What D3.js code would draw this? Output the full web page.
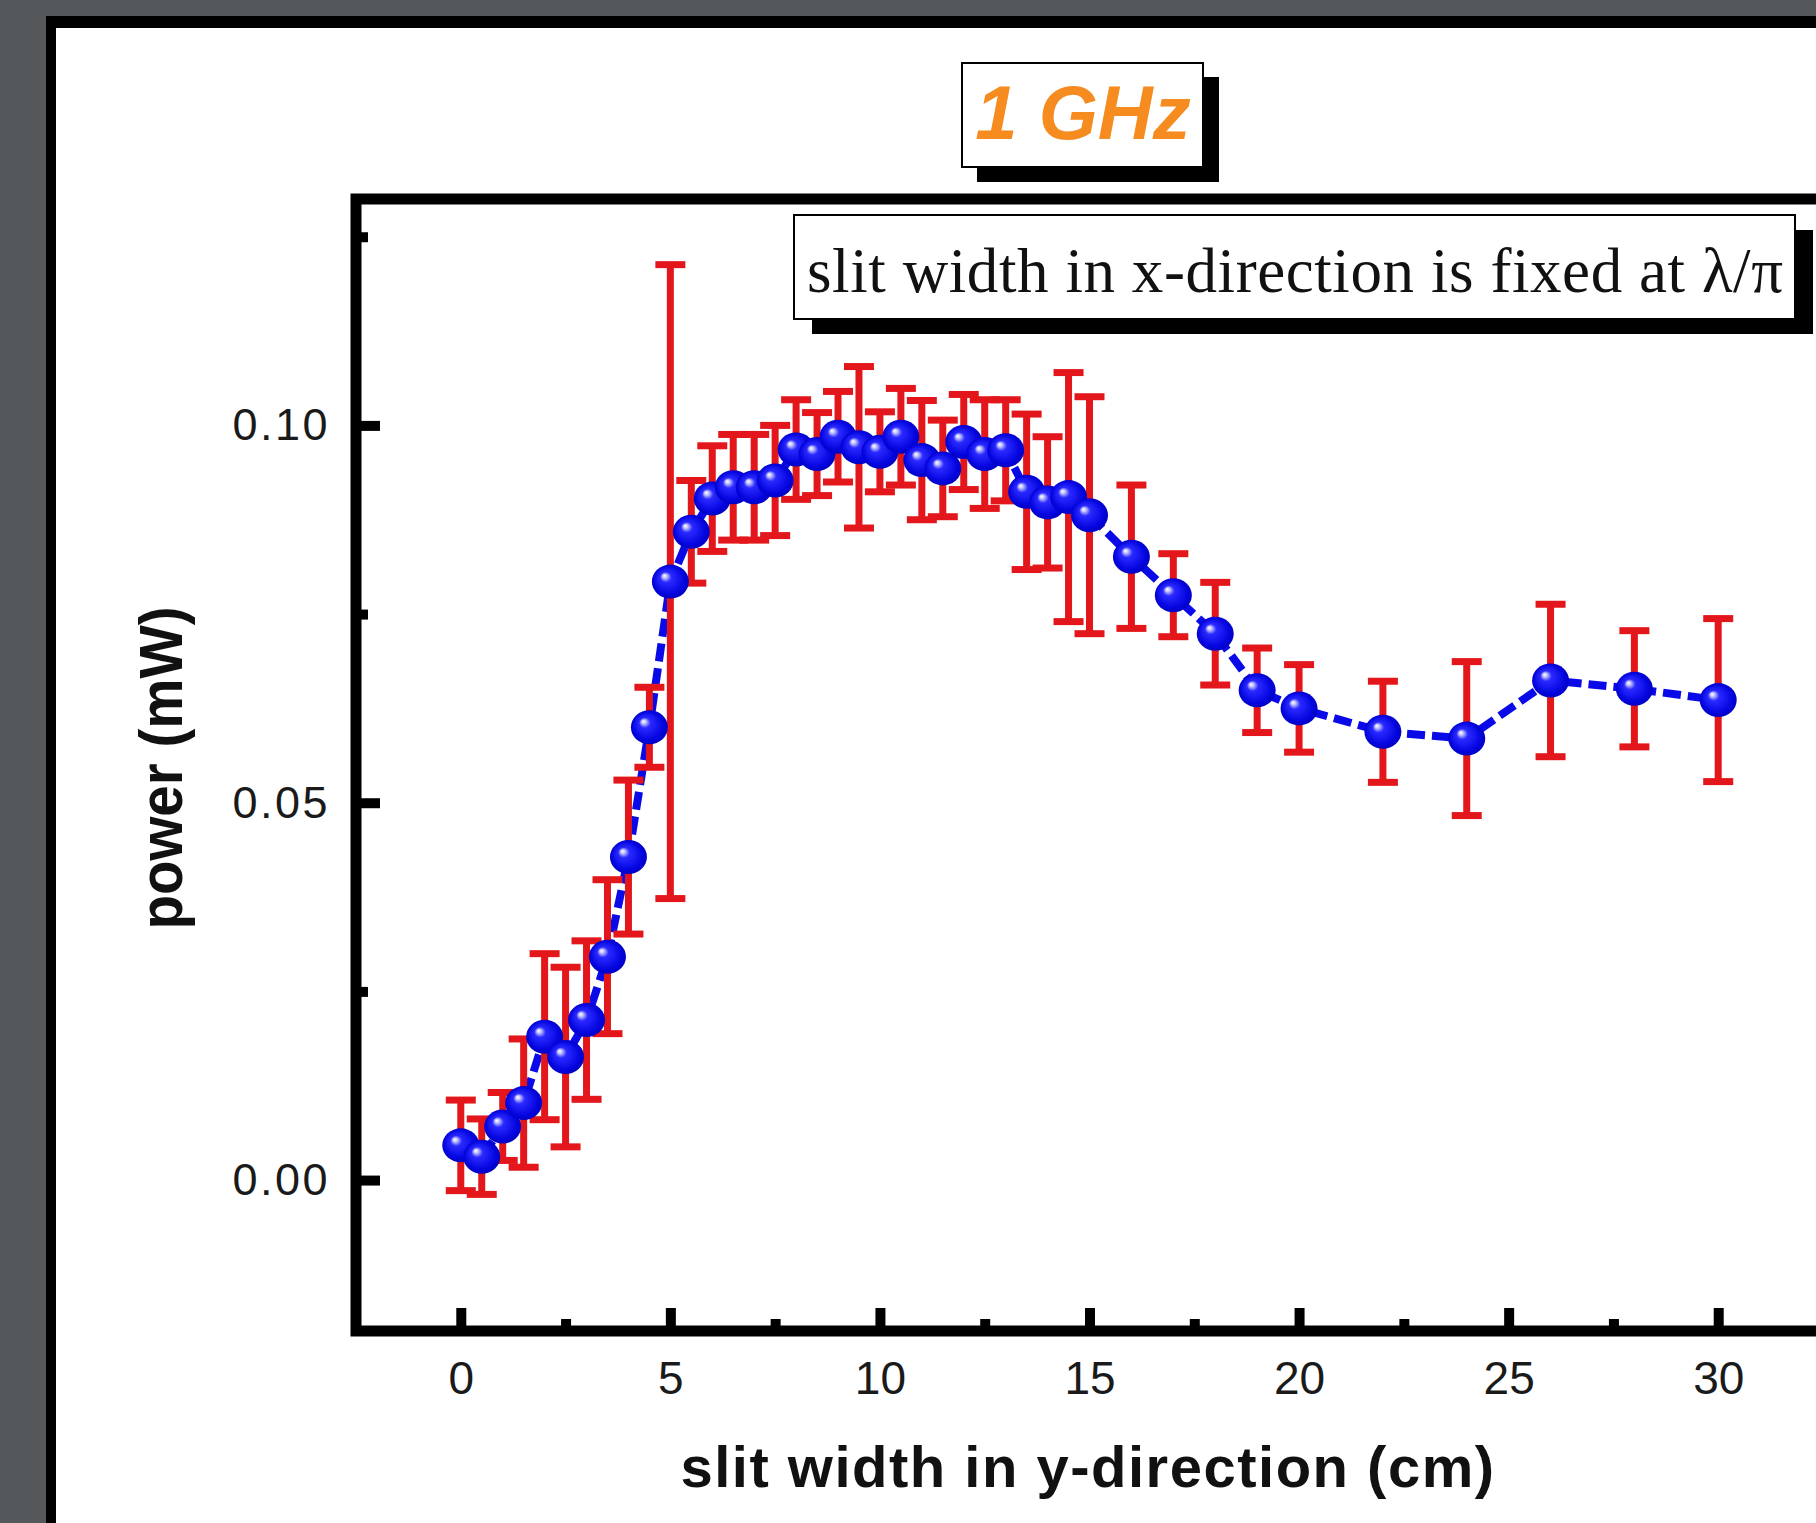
<!DOCTYPE html>
<html>
<head>
<meta charset="utf-8">
<script src="https://cdn.jsdelivr.net/npm/d3@7"></script>
<style>
  html, body { margin: 0; padding: 0; background: #54585a; overflow: hidden; }
  svg { display: block; }
</style>
</head>
<body>
<svg id="chart" width="1816" height="1523"></svg>
<script>
// values
const slitY = [0, 0.5, 1, 1.5, 2, 2.5, 3, 3.5, 4, 4.5, 5, 5.5, 6, 6.5, 7, 7.5, 8, 8.5, 9, 9.5,
  10, 10.5, 11, 11.5, 12, 12.5, 13, 13.5, 14, 14.5, 15, 16, 17, 18, 19, 20, 22, 24, 26, 28, 30];
const power = [0.0046, 0.0031, 0.0071, 0.0102, 0.0190, 0.0163, 0.0212, 0.0296, 0.0428, 0.0600,
  0.0793, 0.0859, 0.0903, 0.0918, 0.0918, 0.0927, 0.0968, 0.0962, 0.0985, 0.0971,
  0.0965, 0.0985, 0.0954, 0.0943, 0.0978, 0.0962, 0.0967, 0.0912, 0.0898, 0.0905,
  0.0881, 0.0826, 0.0775, 0.0724, 0.0649, 0.0625, 0.0594, 0.0585, 0.0662, 0.0651, 0.0636];
const powerErr = [0.0060, 0.0050, 0.0045, 0.0085, 0.0110, 0.0119, 0.0105, 0.0102, 0.0102, 0.0053,
  0.0420, 0.0068, 0.0070, 0.0070, 0.0070, 0.0073, 0.0066, 0.0055, 0.0060, 0.0107,
  0.0053, 0.0064, 0.0079, 0.0064, 0.0063, 0.0072, 0.0067, 0.0103, 0.0087, 0.0165,
  0.0157, 0.0095, 0.0055, 0.0068, 0.0056, 0.0058, 0.0067, 0.0102, 0.0101, 0.0077, 0.0108];

const xMajorTicks = [0, 5, 10, 15, 20, 25, 30];
const xMinorTicks = [2.5, 7.5, 12.5, 17.5, 22.5, 27.5];
const yMajorTicks = [0, 0.05, 0.10];
const yMinorTicks = [0.025, 0.075, 0.125];

const titleText = "1 GHz";
const noteText = "slit width in x-direction is fixed at \u03bb/\u03c0";
const xTitle = "slit width in y-direction (cm)";
const yTitle = "power (mW)";

// layout
const plotLeft = 356, plotRight = 1823, plotTop = 199, plotBottom = 1331;
const sans = "'Liberation Sans', Arial, sans-serif";
const serif = "'Liberation Serif', 'Times New Roman', serif";

const svg = d3.select("#chart");

const points = slitY.map((s, i) => ({ x: s, y: power[i], e: powerErr[i] }));

const x = d3.scaleLinear().domain([-2.5, 32.5]).range([plotLeft, plotRight]);
const y = d3.scaleLinear().domain([-0.02, 0.13]).range([plotBottom, plotTop]);

function translate(a, b) {
  return `translate(${a}, ${b})`;
}

// outer frame
svg.append("rect").attr("x", 46).attr("y", 16).attr("width", 2000).attr("height", 2000).attr("fill", "#000");
svg.append("rect").attr("x", 56).attr("y", 28).attr("width", 2000).attr("height", 2000).attr("fill", "#fff");

// sphere gradient for markers
const defs = svg.append("defs");
const grad = defs.append("radialGradient").attr("id", "ball")
  .attr("cx", "50%").attr("cy", "50%").attr("r", "55%")
  .attr("fx", "33%").attr("fy", "32%");
grad.append("stop").attr("offset", "0%").attr("stop-color", "#ffffff");
grad.append("stop").attr("offset", "10%").attr("stop-color", "#c9c9ff");
grad.append("stop").attr("offset", "28%").attr("stop-color", "#2a2aff");
grad.append("stop").attr("offset", "75%").attr("stop-color", "#0505e0");
grad.append("stop").attr("offset", "100%").attr("stop-color", "#0000b8");

// plot frame
svg.append("rect")
  .attr("x", plotLeft).attr("y", plotTop)
  .attr("width", plotRight - plotLeft).attr("height", plotBottom - plotTop)
  .attr("fill", "#fff").attr("stroke", "#000").attr("stroke-width", 11);

// axes
svg.append("g").attr("class", "x-axis")
  .attr("transform", translate(0, plotBottom))
  .call(d3.axisBottom(x).tickValues(xMajorTicks).tickSize(-23).tickPadding(30).tickFormat(d3.format("d")));
svg.append("g").attr("class", "x-axis-minor")
  .attr("transform", translate(0, plotBottom))
  .call(d3.axisBottom(x).tickValues(xMinorTicks).tickSize(-12).tickFormat(""));

svg.append("g").attr("class", "y-axis")
  .attr("transform", translate(plotLeft, 0))
  .call(d3.axisLeft(y).tickValues(yMajorTicks).tickSize(-24).tickPadding(26).tickFormat(d3.format(".2f")));
svg.append("g").attr("class", "y-axis-minor")
  .attr("transform", translate(plotLeft, 0))
  .call(d3.axisLeft(y).tickValues(yMinorTicks).tickSize(-12).tickFormat(""));

svg.selectAll("g.x-axis path.domain, g.x-axis-minor path.domain, g.y-axis path.domain, g.y-axis-minor path.domain").remove();
svg.selectAll("g.x-axis .tick line, g.x-axis-minor .tick line, g.y-axis .tick line, g.y-axis-minor .tick line")
  .attr("stroke", "#000").attr("stroke-width", 10);
svg.selectAll("g.x-axis text")
  .attr("font-family", sans).attr("font-size", 46).attr("fill", "#1a1a1a");
svg.selectAll("g.y-axis text")
  .attr("font-family", sans).attr("font-size", 45).attr("letter-spacing", 2.5).attr("fill", "#1a1a1a");

// dashed connecting line
const line = d3.line().x(d => x(d.x)).y(d => y(d.y));
svg.append("path")
  .datum(points)
  .attr("d", line)
  .attr("fill", "none")
  .attr("stroke", "#0a0ae8")
  .attr("stroke-width", 8)
  .attr("stroke-dasharray", "18,7");

// error bars
const capHalf = 15;
const bars = svg.append("g").attr("class", "error-bars")
  .selectAll("g.bar")
  .data(points)
  .enter()
  .append("g").attr("class", "bar");

bars.append("line")
  .attr("x1", d => x(d.x)).attr("x2", d => x(d.x))
  .attr("y1", d => y(d.y + d.e)).attr("y2", d => y(d.y - d.e));
bars.append("line")
  .attr("x1", d => x(d.x) - capHalf).attr("x2", d => x(d.x) + capHalf)
  .attr("y1", d => y(d.y + d.e)).attr("y2", d => y(d.y + d.e));
bars.append("line")
  .attr("x1", d => x(d.x) - capHalf).attr("x2", d => x(d.x) + capHalf)
  .attr("y1", d => y(d.y - d.e)).attr("y2", d => y(d.y - d.e));
bars.selectAll("line").attr("stroke", "#e3171b").attr("stroke-width", 7);

// markers
svg.append("g").attr("class", "markers")
  .selectAll("ellipse")
  .data(points)
  .enter()
  .append("ellipse")
  .attr("cx", d => x(d.x))
  .attr("cy", d => y(d.y))
  .attr("rx", 18.5)
  .attr("ry", 17)
  .attr("fill", "url(#ball)");

// axis titles
svg.append("text")
  .attr("x", 1088).attr("y", 1487)
  .attr("text-anchor", "middle")
  .attr("font-family", sans).attr("font-weight", "bold").attr("font-size", 58)
  .attr("letter-spacing", 1.5)
  .attr("fill", "#111")
  .text(xTitle);

svg.append("text")
  .attr("transform", translate(182, 768) + " rotate(-90)")
  .attr("text-anchor", "middle")
  .attr("font-family", sans).attr("font-weight", "bold").attr("font-size", 61)
  .attr("textLength", 323).attr("lengthAdjust", "spacingAndGlyphs")
  .attr("fill", "#111")
  .text(yTitle);

// note box
const note = svg.append("g").attr("class", "note");
note.append("rect").attr("x", 812).attr("y", 230).attr("width", 1001).attr("height", 104).attr("fill", "#000");
note.append("rect").attr("x", 794).attr("y", 215).attr("width", 1001).attr("height", 104)
  .attr("fill", "#fff").attr("stroke", "#000").attr("stroke-width", 2);
note.append("text")
  .attr("x", 807).attr("y", 292)
  .attr("font-family", serif).attr("font-size", 63)
  .attr("textLength", 976).attr("lengthAdjust", "spacing")
  .attr("fill", "#111")
  .text(noteText);

// title box
const title = svg.append("g").attr("class", "title");
title.append("rect").attr("x", 977).attr("y", 77).attr("width", 242).attr("height", 105).attr("fill", "#000");
title.append("rect").attr("x", 962).attr("y", 63).attr("width", 241).attr("height", 104)
  .attr("fill", "#fff").attr("stroke", "#000").attr("stroke-width", 2);
title.append("text")
  .attr("x", 1083).attr("y", 139)
  .attr("text-anchor", "middle")
  .attr("font-family", sans).attr("font-weight", "bold").attr("font-style", "italic").attr("font-size", 76)
  .attr("fill", "#f68b1f")
  .text(titleText);
</script>
</body>
</html>
